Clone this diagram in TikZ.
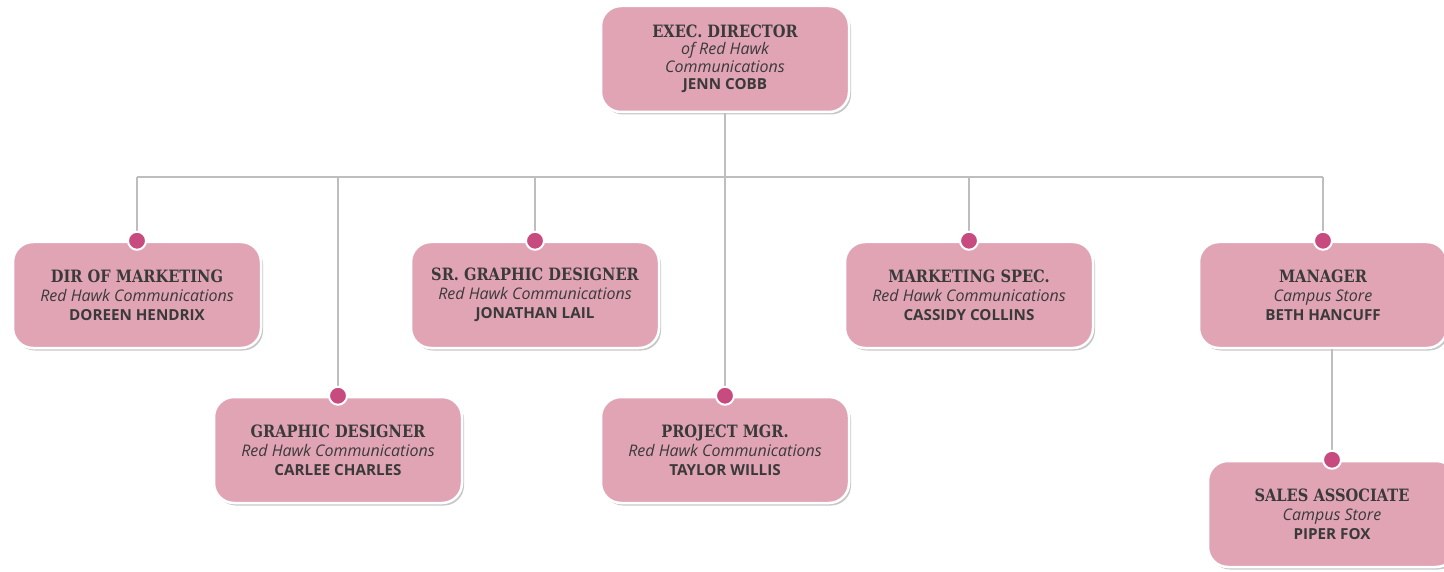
\documentclass[tikz,border=0pt]{standalone}
\usepackage{fontspec}
\usepackage{tikz}
\usetikzlibrary{shadows}
\setmainfont{DejaVu Serif}
\newfontfamily\ttlfont[FakeStretch=0.86]{DejaVu Serif}
\newfontfamily\subfont{Open Sans}
\definecolor{boxpink}{HTML}{E0A4B5}
\definecolor{dotpink}{HTML}{C84B80}
\definecolor{linegray}{HTML}{BEBEBE}
\definecolor{txtgray}{HTML}{3A3A3A}
\newcommand{\ttl}[1]{{\ttlfont\bfseries\fontsize{17}{19}\selectfont #1}}
\newcommand{\sub}[1]{{\subfont\itshape\fontsize{16}{19}\selectfont #1}}
\newcommand{\nm}[1]{{\subfont\bfseries\fontsize{15.2}{19}\selectfont #1}}

\begin{document}
\begin{tikzpicture}[x=1pt,y=-1pt,
  rolebox/.style={draw=white, line width=2.5pt, fill=boxpink, rounded corners=20pt,
    minimum width=248pt, minimum height=106pt, align=center, text=txtgray,
    font=\fontsize{15}{19}\selectfont,
    drop shadow={shadow xshift=2pt, shadow yshift=-2.5pt, fill=black, opacity=0.22}},
  dot/.style={circle, draw=white, line width=2pt, fill=dotpink, minimum size=18pt, inner sep=0pt},
  link/.style={draw=linegray, line width=2pt}]
\useasboundingbox [fill=white] (0,0) rectangle (1444,572);
% top
\node [rolebox, font=\fontsize{15}{17.5}\selectfont] (exec) at (725,59) {\ttl{EXEC. DIRECTOR}\\\sub{of Red Hawk}\\\sub{Communications}\\\nm{JENN COBB}};
% first row
\node [rolebox] (dirmkt) at (137,295) {\ttl{DIR OF MARKETING}\\\sub{Red Hawk Communications}\\\nm{DOREEN HENDRIX}};
\node [rolebox] (srgd) at (535,295) {\ttl{SR. GRAPHIC DESIGNER}\\\sub{Red Hawk Communications}\\\nm{JONATHAN LAIL}};
\node [rolebox] (mspec) at (969,295) {\ttl{MARKETING SPEC.}\\\sub{Red Hawk Communications}\\\nm{CASSIDY COLLINS}};
\node [rolebox] (mgr) at (1323,295) {\ttl{MANAGER}\\\sub{Campus Store}\\\nm{BETH HANCUFF}};
% second row
\node [rolebox] (gd) at (338,450) {\ttl{GRAPHIC DESIGNER}\\\sub{Red Hawk Communications}\\\nm{CARLEE CHARLES}};
\node [rolebox] (pm) at (725,450) {\ttl{PROJECT MGR.}\\\sub{Red Hawk Communications}\\\nm{TAYLOR WILLIS}};
\node [rolebox] (sales) at (1332,514) {\ttl{SALES ASSOCIATE}\\\sub{Campus Store}\\\nm{PIPER FOX}};
% lines
\coordinate (bus) at (725,177);
\draw [link] (exec.south) -- (bus);
\draw [link] (dirmkt.north |- bus) -- (mgr.north |- bus);
\foreach \n in {dirmkt,gd,srgd,pm,mspec,mgr}
  \draw [link] (\n.north |- bus) -- (\n.north);
\draw [link] (mgr.south -| sales.north) -- (sales.north);
% dots
\foreach \n in {dirmkt,gd,srgd,pm,mspec,mgr,sales}
  \node [dot] at (\n.north) {};
\end{tikzpicture}
\end{document}
